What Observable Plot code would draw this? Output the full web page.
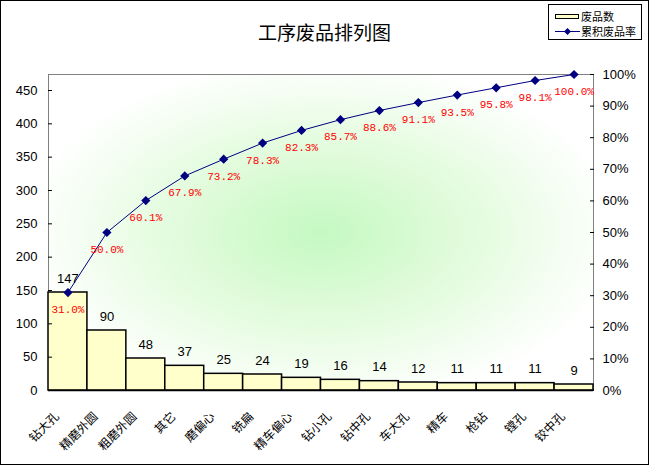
<!DOCTYPE html>
<html><head><meta charset="utf-8">
<script src="https://cdn.jsdelivr.net/npm/d3@7"></script>
<script src="https://cdn.jsdelivr.net/npm/@observablehq/plot@0.6"></script>
<style>
body{margin:0;background:#fff}
#wrap{position:relative;width:649px;height:465px;overflow:hidden;background:#fff}
#wrap svg{display:block}
#title{position:absolute;left:0;top:22px;width:649px;text-align:center;font:19px/20px "Noto Sans CJK SC",sans-serif;color:#000}
#legend{position:absolute;left:548px;top:4px;width:94px;height:36px;border:1px solid #000;background:#fff;font:11px/13px "Noto Sans CJK SC",sans-serif;box-sizing:border-box}
.li{position:absolute;left:32px;white-space:nowrap}
#sw1{position:absolute;left:6px;top:9px;width:24px;height:5px;background:#ffffcc;border:1px solid #000;box-sizing:border-box}
#sw2{position:absolute;left:6px;top:26px;width:25px;height:1px;background:#000080}
#sw2d{position:absolute;left:16px;top:24px;width:5px;height:5px;background:#000080;transform:rotate(45deg)}
#border{position:absolute;left:0;top:0;width:649px;height:465px;border:1px solid #000;box-sizing:border-box;pointer-events:none}
</style></head><body>
<div id="wrap"><div id="title">工序废品排列图</div>
<div id="legend"><div id="sw1"></div><div class="li" style="top:5px">废品数</div><div id="sw2"></div><div id="sw2d"></div><div class="li" style="top:20px">累积废品率</div></div>
<div id="border"></div></div>
<script>
const categories = ["钻大孔","精磨外圆","粗磨外圆","其它","磨偏心","铣扁","精车偏心","钻小孔","钻中孔","车大孔","精车","枪钻","镗孔","铰中孔"];
const counts = [147,90,48,37,25,24,19,16,14,12,11,11,11,9];
const cumulativePct = [31.0,50.0,60.1,67.9,73.2,78.3,82.3,85.7,88.6,91.1,93.5,95.8,98.1,100.0];
const leftTicks = [0,50,100,150,200,250,300,350,400,450];
const rightTicks = [0,10,20,30,40,50,60,70,80,90,100];
const total = d3.sum(counts);

const rows = categories.map((c,i)=>({cat:c,count:counts[i],pct:cumulativePct[i],pctY:cumulativePct[i]/100*total}));

const chart = Plot.plot({
  width:649, height:465,
  marginLeft:48, marginRight:56, marginTop:74, marginBottom:75,
  x:{domain:categories, padding:0, round:false, axis:null},
  y:{domain:[0,total], axis:null},
  style:{fontFamily:"'Liberation Sans', Arial, sans-serif", fontSize:"13px", background:"transparent", overflow:"visible"},
  marks:[
    Plot.frame({fill:"url(#bgGrad)", stroke:"#808080"}),
    Plot.barY(rows,{x:"cat", y:"count", fill:"#ffffcc", stroke:"#000", strokeWidth:1.5, inset:0}),
    Plot.ruleY([0],{stroke:"#000", strokeWidth:1.5}),
    Plot.axisY({anchor:"left", ticks:leftTicks, tickSize:-4, tickPadding:15, line:true, label:null, stroke:"#000", color:"#000", fontSize:13}),
    Plot.axisY({anchor:"right", ticks:rightTicks.map(p=>p/100*total), tickFormat:d=>Math.round(d/total*100)+"%", tickSize:-4, tickPadding:13, line:true, label:null, fontSize:13}),
    Plot.line(rows,{x:"cat", y:"pctY", stroke:"#000080", strokeWidth:1}),
    Plot.dot(rows,{x:"cat", y:"pctY", symbol:"diamond2", fill:"#000080", stroke:"#000080", r:3.2}),
    Plot.text(rows,{x:"cat", y:"pctY", text:d=>d.pct.toFixed(1)+"%", fill:"#ff0000", dy:17, fontFamily:"'Liberation Mono', monospace", fontSize:11}),
    Plot.text(rows,{x:"cat", y:"count", text:d=>String(d.count), dy:-14, fontSize:13, fill:"#000"}),
    Plot.text(rows,{x:"cat", y:()=>0, text:"cat", rotate:-45, textAnchor:"end", dx:-11, dy:24, fontFamily:"'Noto Sans CJK SC', sans-serif", fontSize:12, fill:"#000"})
  ]
});

const ns = "http://www.w3.org/2000/svg";
const defs = document.createElementNS(ns,"defs");
const rg = document.createElementNS(ns,"radialGradient");
rg.setAttribute("id","bgGrad");
rg.setAttribute("cx","0.5"); rg.setAttribute("cy","0.5"); rg.setAttribute("r","0.55");
[[0,"#c4f9c2"],[0.45,"#e0fbda"],[1,"#ffffff"]].forEach(([o,c])=>{
  const s=document.createElementNS(ns,"stop");
  s.setAttribute("offset",o); s.setAttribute("stop-color",c); rg.appendChild(s);
});
defs.appendChild(rg);
chart.insertBefore(defs, chart.firstChild);
const wrap = document.getElementById("wrap");
wrap.insertBefore(chart, wrap.firstChild);
</script>
</body></html>
